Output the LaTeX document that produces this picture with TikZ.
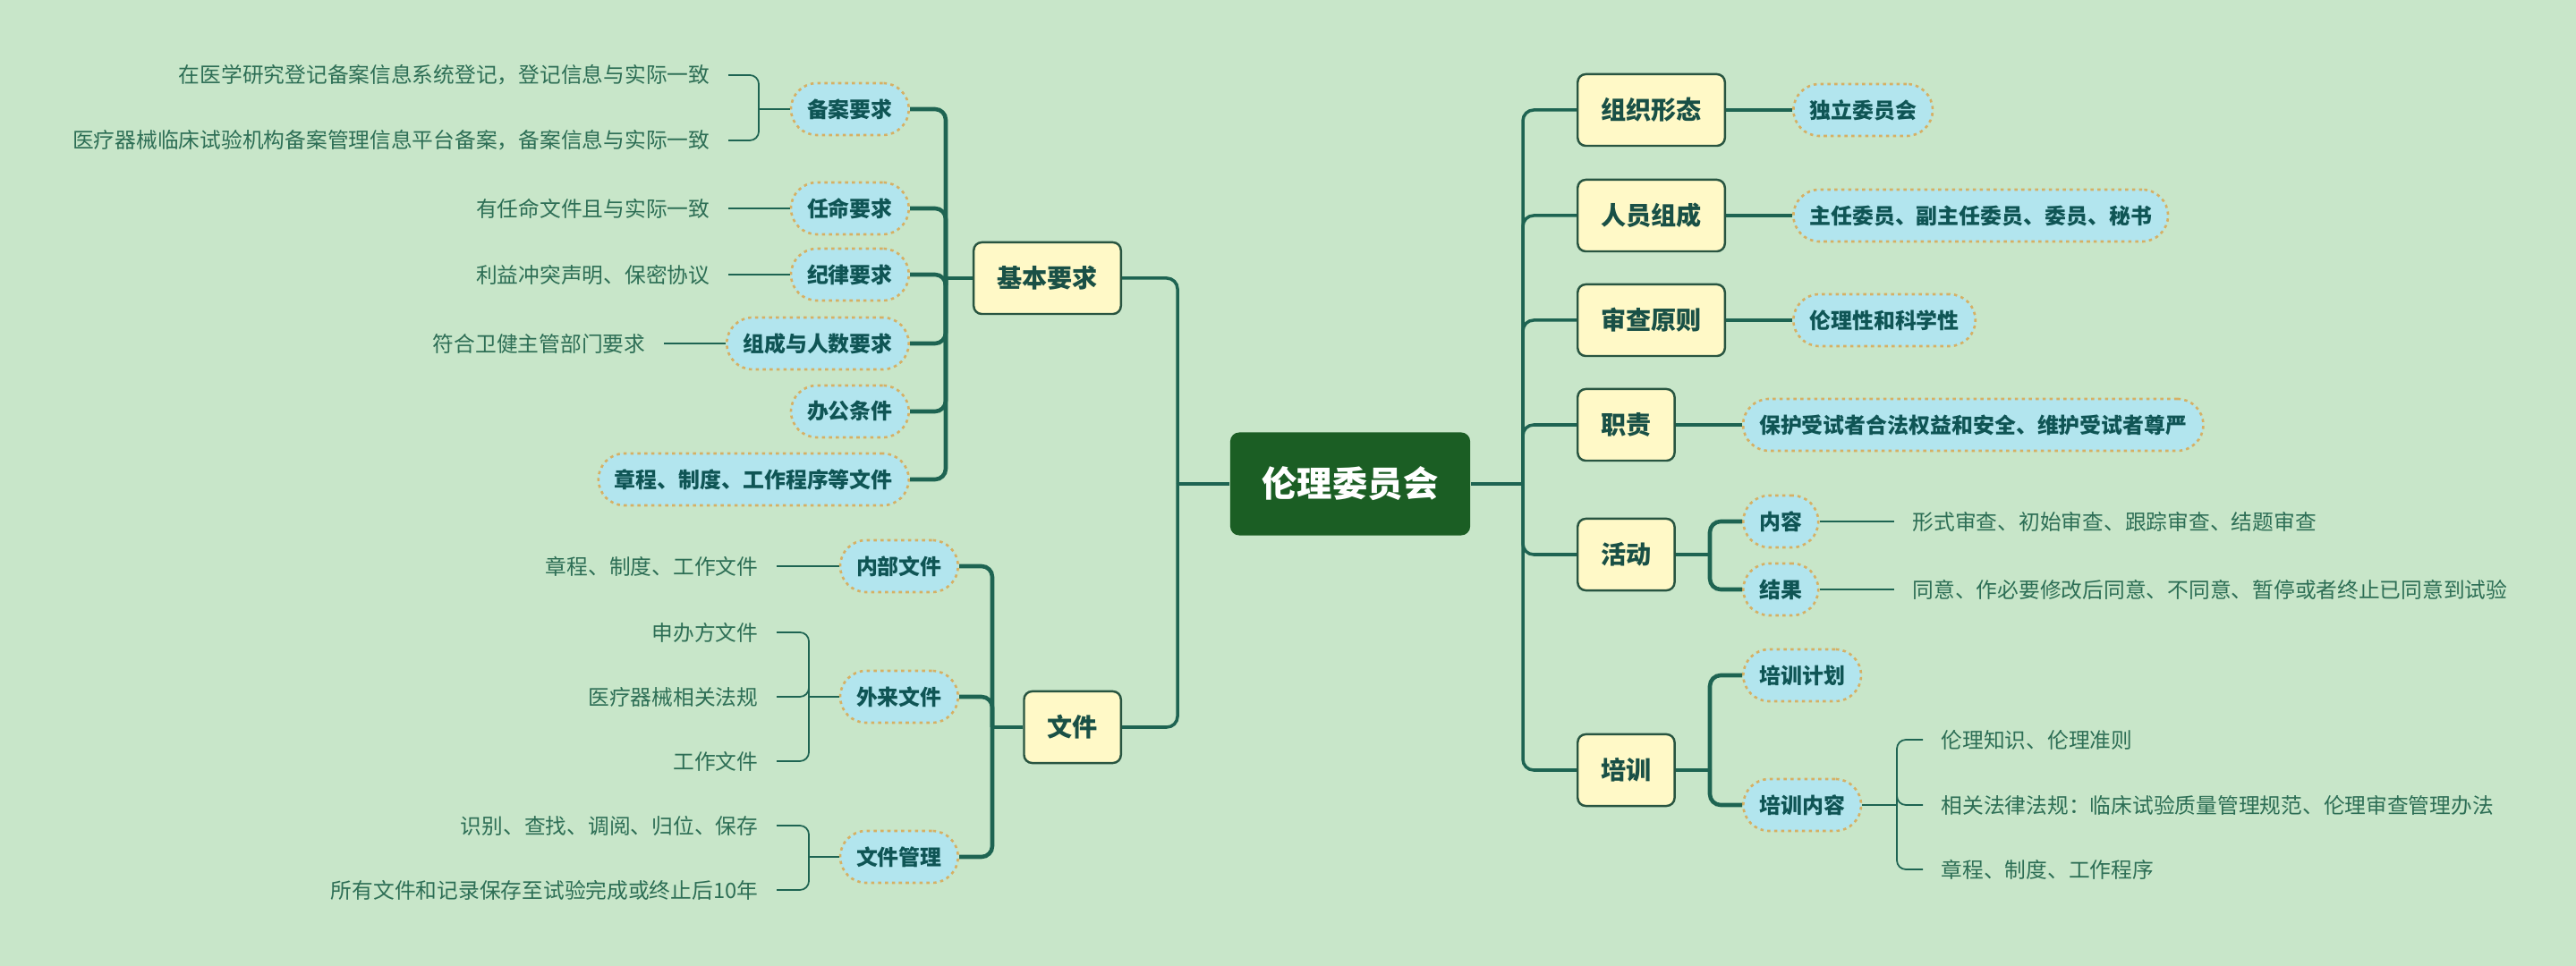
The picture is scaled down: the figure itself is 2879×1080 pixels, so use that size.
\documentclass[tikz,border=0pt]{standalone}
\usepackage{fontspec}
\setmainfont{Noto Sans CJK SC}
\usepackage{tikz}
\usetikzlibrary{positioning}
\definecolor{bgc}{RGB}{200,230,201}
\definecolor{linec}{RGB}{30,100,82}
\definecolor{rootc}{RGB}{27,94,36}
\definecolor{boxc}{RGB}{255,249,199}
\definecolor{boxd}{RGB}{40,85,65}
\definecolor{boxt}{RGB}{25,80,70}
\definecolor{pillc}{RGB}{178,229,238}
\definecolor{pilld}{RGB}{214,176,100}
\definecolor{pillt}{RGB}{15,85,85}
\definecolor{leaft}{RGB}{45,110,85}
\tikzstyle{rootbox} = [rectangle, rounded corners=0.1cm, fill=rootc, text=white, font=\fontsize{11.2}{13}\selectfont\bfseries, minimum width=2.68cm, minimum height=1.15cm]
\tikzstyle{mbox} = [rectangle, rounded corners=0.09cm, draw=boxd, line width=0.7pt, fill=boxc, text=boxt, font=\fontsize{8}{10}\selectfont\bfseries, inner xsep=0.26cm, minimum height=0.8cm]
\tikzstyle{pill} = [rectangle, rounded corners=0.29cm, draw=pilld, dash pattern=on 1pt off 1.2pt, line width=0.75pt, fill=pillc, text=pillt, font=\fontsize{6.8}{8}\selectfont\bfseries, inner xsep=0.18cm, minimum height=0.58cm]
\tikzstyle{leaf} = [inner xsep=0.2cm, inner ysep=0pt, text=leaft, font=\fontsize{6.75}{8}\selectfont]
\tikzstyle{line} = [draw=linec, line width=1pt, rounded corners=0.12cm]
\tikzstyle{sline} = [draw=linec, line width=1.3pt, rounded corners=0.12cm]
\tikzstyle{lline} = [draw=linec, line width=0.5pt, rounded corners=0.1cm]

\begin{document}
\begin{tikzpicture}[x=0.01cm, y=-0.01cm]
    \fill[bgc] (0,0) rectangle (2879,1080);
    \useasboundingbox (0,0) rectangle (2879,1080);

    \node[rootbox] (ethic) at (1509,541) {伦理委员会};
    \coordinate (rt) at (1702,541);
    \coordinate (lt) at (1316,541);

    \node[mbox, anchor=west] (org) at (1762,123) {组织形态};
    \node[mbox, anchor=west] (staff) at (1762,241) {人员组成};
    \node[mbox, anchor=west] (rule) at (1762,358) {审查原则};
    \node[mbox, anchor=west] (duty) at (1762,475) {职责};
    \node[mbox, anchor=west] (act) at (1762,620) {活动};
    \node[mbox, anchor=west] (train) at (1762,861) {培训};

    \node[pill, right=0.74cm of org] (orgA) {独立委员会};
    \node[pill, right=0.74cm of staff] (staffA) {主任委员、副主任委员、委员、秘书};
    \node[pill, right=0.74cm of rule] (ruleA) {伦理性和科学性};
    \node[pill, right=0.74cm of duty] (dutyA) {保护受试者合法权益和安全、维护受试者尊严};

    \coordinate (ab) at (1911,620);
    \node[pill, anchor=west] (actA) at (1947,583) {内容};
    \node[pill, anchor=west] (actB) at (1947,659) {结果};
    \node[leaf, anchor=west] (actAx) at (2117,583) {形式审查、初始审查、跟踪审查、结题审查};
    \node[leaf, anchor=west] (actBx) at (2117,659) {同意、作必要修改后同意、不同意、暂停或者终止已同意到试验};

    \coordinate (tb) at (1911,861);
    \node[pill, anchor=west] (trainA) at (1947,755) {培训计划};
    \node[pill, anchor=west] (trainB) at (1947,900) {培训内容};
    \coordinate (bk4) at (2120,900);
    \node[leaf, anchor=west] (trainB1) at (2149,827) {伦理知识、伦理准则};
    \node[leaf, anchor=west] (trainB2) at (2149,900) {相关法律法规：临床试验质量管理规范、伦理审查管理办法};
    \node[leaf, anchor=west] (trainB3) at (2149,972) {章程、制度、工作程序};

    \node[mbox, anchor=east] (basic) at (1254,311) {基本要求};
    \node[mbox, anchor=east] (docs) at (1254,813) {文件};

    \coordinate (bb) at (1057,311);
    \node[pill, anchor=east] (file) at (1017,122) {备案要求};
    \node[pill, anchor=east] (appoint) at (1017,233) {任命要求};
    \node[pill, anchor=east] (discip) at (1017,307) {纪律要求};
    \node[pill, anchor=east] (member) at (1017,384) {组成与人数要求};
    \node[pill, anchor=east] (office) at (1017,460) {办公条件};
    \node[pill, anchor=east] (charter) at (1017,536) {章程、制度、工作程序等文件};

    \coordinate (bk1) at (848,122);
    \node[leaf, anchor=east] (file1) at (814,84) {在医学研究登记备案信息系统登记，登记信息与实际一致};
    \node[leaf, anchor=east] (file2) at (814,157) {医疗器械临床试验机构备案管理信息平台备案，备案信息与实际一致};
    \node[leaf, anchor=east] (appoint1) at (814,233) {有任命文件且与实际一致};
    \node[leaf, anchor=east] (discip1) at (814,307) {利益冲突声明、保密协议};
    \node[leaf, anchor=east] (member1) at (742,384) {符合卫健主管部门要求};

    \coordinate (db) at (1109,813);
    \node[pill, anchor=east] (inner) at (1072,633) {内部文件};
    \node[pill, anchor=east] (outer) at (1072,779) {外来文件};
    \node[pill, anchor=east] (manage) at (1072,958) {文件管理};

    \node[leaf, anchor=east] (inner1) at (868,633) {章程、制度、工作文件};
    \coordinate (bk2) at (904,779);
    \node[leaf, anchor=east] (outer1) at (868,707) {申办方文件};
    \node[leaf, anchor=east] (outer2) at (868,779) {医疗器械相关法规};
    \node[leaf, anchor=east] (outer3) at (868,851) {工作文件};
    \coordinate (bk3) at (904,958);
    \node[leaf, anchor=east] (manage1) at (868,923) {识别、查找、调阅、归位、保存};
    \node[leaf, anchor=east] (manage2) at (868,995) {所有文件和记录保存至试验完成或终止后10年};

    \path[line] (ethic.east) -- (rt);
    \foreach \n in {org,staff,rule,duty,act,train}
        \path[line] (rt) |- (\n.west);
    \path[line] (ethic.west) -- (lt);
    \foreach \n in {basic,docs}
        \path[line] (lt) |- (\n.east);

    \foreach \n/\m in {org/orgA, staff/staffA, rule/ruleA, duty/dutyA}
        \path[sline] (\n.east) -- (\m.west);
    \path[sline] (act.east) -- (ab);
    \foreach \m in {actA,actB}
        \path[sline] (ab) |- (\m.west);
    \path[sline] (train.east) -- (tb);
    \foreach \m in {trainA,trainB}
        \path[sline] (tb) |- (\m.west);
    \path[sline] (basic.west) -- (bb);
    \foreach \m in {file,appoint,discip,member,office,charter}
        \path[sline] (bb) |- (\m.east);
    \path[sline] (docs.west) -- (db);
    \foreach \m in {inner,outer,manage}
        \path[sline] (db) |- (\m.east);

    \path[lline] (actA.east) -- (actAx.west);
    \path[lline] (actB.east) -- (actBx.west);
    \path[lline] (trainB.east) -- (bk4);
    \foreach \m in {trainB1,trainB2,trainB3}
        \path[lline] (bk4) |- (\m.west);
    \path[lline] (file.west) -- (bk1);
    \foreach \m in {file1,file2}
        \path[lline] (bk1) |- (\m.east);
    \path[lline] (appoint.west) -- (appoint1.east);
    \path[lline] (discip.west) -- (discip1.east);
    \path[lline] (member.west) -- (member1.east);
    \path[lline] (inner.west) -- (inner1.east);
    \path[lline] (outer.west) -- (bk2);
    \foreach \m in {outer1,outer2,outer3}
        \path[lline] (bk2) |- (\m.east);
    \path[lline] (manage.west) -- (bk3);
    \foreach \m in {manage1,manage2}
        \path[lline] (bk3) |- (\m.east);
\end{tikzpicture}
\end{document}
